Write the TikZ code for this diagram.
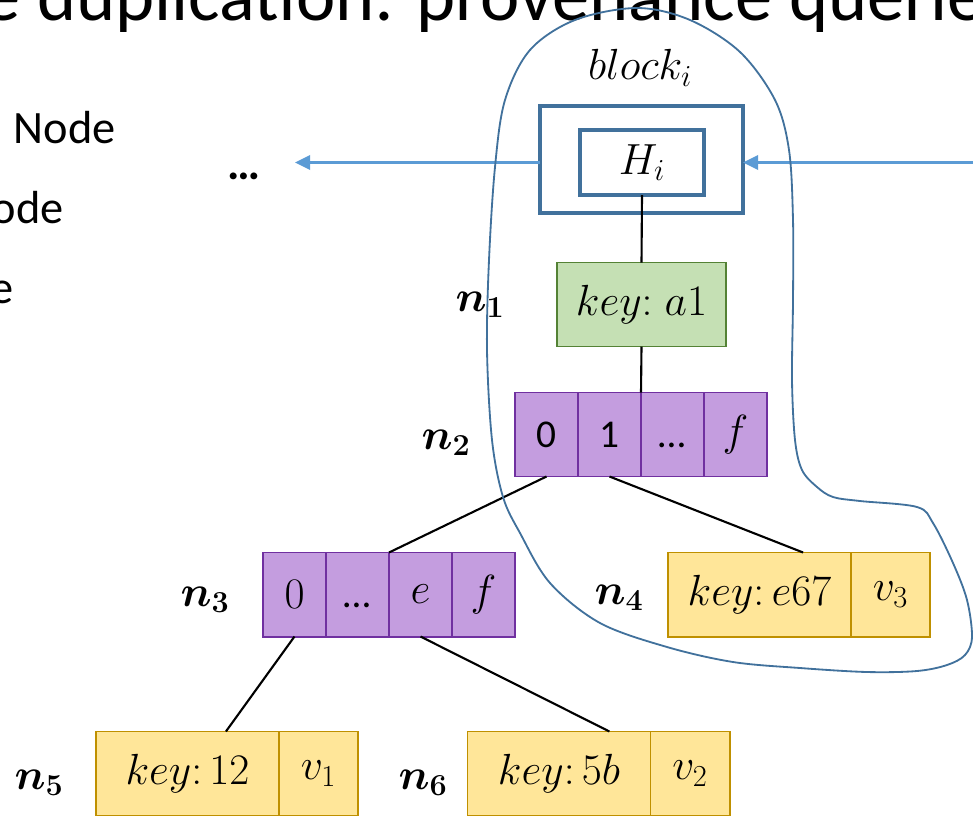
\documentclass[tikz,border=0pt]{standalone}
\usepackage{fix-cm}
\usepackage{amsmath}
\usepackage{bm}
\usepackage[no-math]{fontspec}
\setmainfont{Carlito}
\usepackage{tikz}
\usetikzlibrary{arrows.meta}
\usetikzlibrary{positioning}
\definecolor{blkblue}{HTML}{41719C}
\definecolor{ptrblue}{HTML}{5B9BD5}
\definecolor{brfill}{HTML}{C49DDF}
\definecolor{brdraw}{HTML}{7030A0}
\definecolor{lffill}{HTML}{FFE699}
\definecolor{lfdraw}{HTML}{BF9000}
\definecolor{exfill}{HTML}{C5E0B4}
\definecolor{exdraw}{HTML}{548235}
\newcommand{\mfont}{\fontsize{31}{37}\selectfont}
\newcommand{\cfont}{\fontsize{28}{34}\selectfont}
\newcommand{\tfont}{\fontsize{33}{40}\selectfont}
\tikzstyle{cell}=[draw, line width=1.4pt, inner sep=0pt, outer sep=0pt, minimum height=21mm]
\tikzstyle{brcell}=[cell, draw=brdraw, fill=brfill, minimum width=15.75mm, font=\cfont]
\tikzstyle{leafkey}=[cell, draw=lfdraw, fill=lffill, minimum width=45.75mm, font=\mfont]
\tikzstyle{leafval}=[cell, draw=lfdraw, fill=lffill, minimum width=19.75mm, font=\mfont]
\tikzstyle{excell}=[cell, draw=exdraw, fill=exfill, minimum width=42.25mm, font=\mfont]
\tikzstyle{hashbox}=[draw=blkblue, line width=2.8pt, inner sep=0pt, outer sep=0pt]
\tikzstyle{lbl}=[font=\mfont, inner sep=0pt]
\tikzstyle{link}=[line width=1.5pt]
\tikzstyle{hashptr}=[draw=ptrblue, line width=1.8pt, -{Triangle[length=3.8mm, width=3.6mm]}]
\tikzstyle{blob}=[draw=blkblue, line width=1.3pt]

\begin{document}
\begin{tikzpicture}[x=0.25mm, y=-0.25mm]
    \useasboundingbox (0,0) rectangle (973,815);
    \clip (0,0) rectangle (973,815);
    \node[anchor=base west, inner sep=0pt, font=\fontsize{53}{64}\selectfont] (title) at (-17,20) {e duplication: provenance querie};
    \node[anchor=base east, inner sep=0pt, font=\tfont] (lg1) at (116,143) {Node};
    \node[anchor=base east, inner sep=0pt, font=\tfont] (lg2) at (64,223) {ode};
    \node[anchor=base east, inner sep=0pt, font=\tfont] (lg3) at (14,303) {e};
    \node[anchor=base, inner sep=0pt, font=\tfont\bfseries] (dots) at (244,179) {…};

    \node[lbl] (blklbl) at (640,68) {$block_i$};
    \node[hashbox, minimum width=50.75mm, minimum height=26.75mm] (blk) at (641.5,159.5) {};
    \node[hashbox, minimum width=31mm, minimum height=16.25mm, font=\mfont] (hash) at (642,162.5) {$H_i$};
    \coordinate (prev) at (295,162.5);
    \coordinate (next) at (1000,162.5);
    \draw[hashptr] (blk.west |- hash.center) -- (prev);
    \draw[hashptr] (next) -- (blk.east |- hash.center);

    \node[excell] (n1) at (641.5,304.5) {$key{:}\;a1$};
    \node[lbl] (l1) at (480,305) {$\bm{n_1}$};

    \node[brcell] (n2a) at (546.5,434.5) {0};
    \node[brcell, right=0pt of n2a] (n2b) {1};
    \node[brcell, right=0pt of n2b] (n2c) {\vphantom{0}…};
    \node[brcell, right=0pt of n2c] (n2d) {\mfont$f$};
    \node[lbl] (l2) at (446,443) {$\bm{n_2}$};

    \node[brcell] (n3a) at (294.5,594.5) {\mfont$0$};
    \node[brcell, right=0pt of n3a] (n3b) {\vphantom{0}…};
    \node[brcell, right=0pt of n3b] (n3c) {\mfont$e$};
    \node[brcell, right=0pt of n3c] (n3d) {\mfont$f$};
    \node[lbl] (l3) at (205,600) {$\bm{n_3}$};

    \node[leafkey] (n4k) at (759.5,594.5) {$key{:}\,e67$};
    \node[leafval, right=0pt of n4k] (n4v) {$v_3$};
    \node[lbl] (l4) at (619,598) {$\bm{n_4}$};

    \node[leafkey] (n5k) at (187.5,773.5) {$key{:}\,12$};
    \node[leafval, right=0pt of n5k] (n5v) {$v_1$};
    \node[lbl] (l5) at (39,783) {$\bm{n_5}$};

    \node[leafkey] (n6k) at (559,773.5) {$key{:}\,5b$};
    \node[leafval, right=0pt of n6k] (n6v) {$v_2$};
    \node[lbl] (l6) at (423,783) {$\bm{n_6}$};

    \draw[link] (hash.south) -- (n1.north);
    \draw[link] (n1.south) -- (n2b.north east);
    \draw[link] (n2a.south) -- (n3b.north east);
    \draw[link] (n2b.south) -- ([xshift=10.9mm]n4k.north);
    \draw[link] (n3a.south) -- ([xshift=9.6mm]n5k.north);
    \draw[link] (n3c.south) -- ([xshift=12.6mm]n6k.north);

    \draw[blob] plot[smooth cycle, tension=0.55] coordinates {(637,8) (690,20) (740,52) (775,100) (789,150) (793,220) (793,300) (792,380) (795,440) (802,470) (817,487) (833,497) (860,501) (917,507) (933,523) (953,563) (967,600) (972,637) (965,655) (947,665) (917,671) (867,672) (800,668) (733,662) (667,647) (600,623) (550,583) (520,533) (503,497) (492,440) (487,350) (489,260) (495,167) (505,100) (530,50) (575,20)};
  \end{tikzpicture}
\end{document}
